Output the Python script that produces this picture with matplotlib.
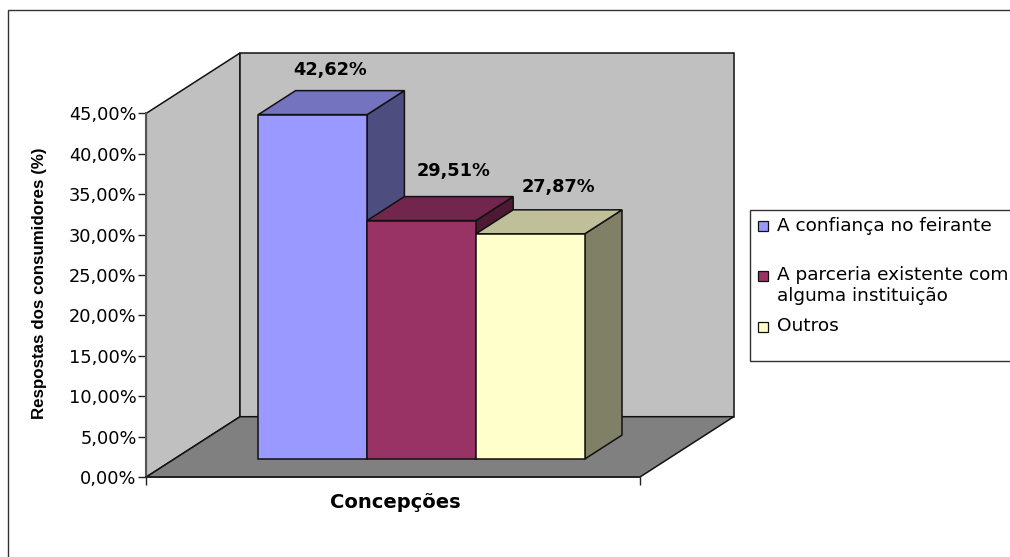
import matplotlib
matplotlib.use("Agg")
import matplotlib.pyplot as plt
from matplotlib.patches import Polygon, Rectangle

W, H = 1010, 557

categories = ["A confiança no feirante", "A parceria existente com\nalguma instituição", "Outros"]
values = [42.62, 29.51, 27.87]
value_labels = ["42,62%", "29,51%", "27,87%"]
y_ticks = [0, 5, 10, 15, 20, 25, 30, 35, 40, 45]
y_tick_labels = ["0,00%", "5,00%", "10,00%", "15,00%", "20,00%", "25,00%", "30,00%", "35,00%", "40,00%", "45,00%"]
x_title = "Concepções"
y_title = "Respostas dos consumidores (%)"

front_colors = ["#9999FF", "#993366", "#FFFFCC"]
top_colors = ["#7373BF", "#73264D", "#BFBF99"]
side_colors = ["#4D4D80", "#4D1933", "#808066"]

plt.rcParams["font.family"] = ["DejaVu Sans"]
fig = plt.figure(figsize=(W / 100, H / 100), dpi=100, facecolor="white")


def fx(px):
    return px / W


def fy(py):
    return 1 - py / H


# outer frame runs past the right and bottom edges of the picture
fig.add_artist(Rectangle((fx(7.5), fy(570)), fx(1030), 560.5 / H, transform=fig.transFigure,
                         fill=False, ec="#333333", lw=1.0))

L, R, T, B = 146.3, 640.0, 113.3, 477.0
ax = fig.add_axes([fx(L), fy(B), fx(R - L), (B - T) / H])
ax.set_xlim(0, 1)
ax.set_ylim(0, 45)
ax.patch.set_visible(False)

DX = 93.7 / (R - L)             # full depth, x data units
DY = 60.3 / ((B - T) / 45)      # full depth, y data units


def proj(x, y, d):
    return (x + DX * d, y + DY * d)


def face(pts, color, lw=1.1, ec="#111111", z=1):
    ax.add_patch(Polygon([proj(*p) for p in pts], closed=True, fc=color, ec=ec, lw=lw,
                         clip_on=False, zorder=z, joinstyle="miter"))


# walls and floor
face([(0, 0, 0), (0, 45, 0), (0, 45, 1), (0, 0, 1)], "#C0C0C0")
face([(0, 0, 1), (0, 45, 1), (1, 45, 1), (1, 0, 1)], "#C0C0C0")
face([(0, 0, 0), (1, 0, 0), (1, 0, 1), (0, 0, 1)], "#808080")

# bars
bar_w = 108.8 / (R - L)
start = 0.1705
d0, d1 = 0.2975, 0.695
label_dx = [17, 32, 28]
label_dy = [45, 50, 47]
for i, v in enumerate(values):
    x0 = start + i * bar_w
    x1 = x0 + bar_w
    z = 2 + i
    face([(x1, 0, d0), (x1, v, d0), (x1, v, d1), (x1, 0, d1)], side_colors[i], z=z)
    face([(x0, v, d0), (x1, v, d0), (x1, v, d1), (x0, v, d1)], top_colors[i], z=z)
    face([(x0, 0, d0), (x1, 0, d0), (x1, v, d0), (x0, v, d0)], front_colors[i], z=z)
    ax.annotate(value_labels[i], xy=proj((x0 + x1) / 2, v, d0), xytext=(label_dx[i], label_dy[i]),
                textcoords="offset pixels", ha="center", va="center",
                fontsize=12.8, fontweight="bold", color="black", zorder=10, annotation_clip=False)

# axes lines and ticks
for s in ["top", "right"]:
    ax.spines[s].set_visible(False)
ax.spines["left"].set_linewidth(1.5)
ax.spines["left"].set_color("#555555")
ax.spines["bottom"].set_linewidth(1.3)
ax.spines["bottom"].set_color("#222222")
ax.spines["left"].set_zorder(9)
ax.spines["bottom"].set_zorder(9)
ax.set_yticks(y_ticks)
ax.set_yticklabels(y_tick_labels, fontsize=12.8)
ax.set_xticks([0, 1])
ax.set_xticklabels(["", ""])
ax.tick_params(axis="both", length=5.5, width=1.0, color="#222222", pad=1.5)

fig.text(fx(395), fy(502), x_title, ha="center", va="center", fontsize=14, fontweight="bold")
fig.text(fx(40), fy(283), y_title, ha="center", va="center", rotation=90, fontsize=12.2,
         fontweight="bold", family="Liberation Sans")

# legend
fig.add_artist(Rectangle((fx(749.5), fy(361)), fx(300), 151 / H, transform=fig.transFigure,
                         fc="white", ec="#333333", lw=1.0))
legend_y = [226, 276, 326.5]
for i, name in enumerate(categories):
    fig.add_artist(Rectangle((fx(757.5), fy(legend_y[i] + 5)), fx(10), 10 / H, transform=fig.transFigure,
                             fc=front_colors[i], ec="#111111", lw=0.9))
    fig.text(fx(777), fy(legend_y[i] - 9.5), name, ha="left", va="top", fontsize=13.3,
             linespacing=1.17, color="black")

fig.savefig("out.png", dpi=100)
